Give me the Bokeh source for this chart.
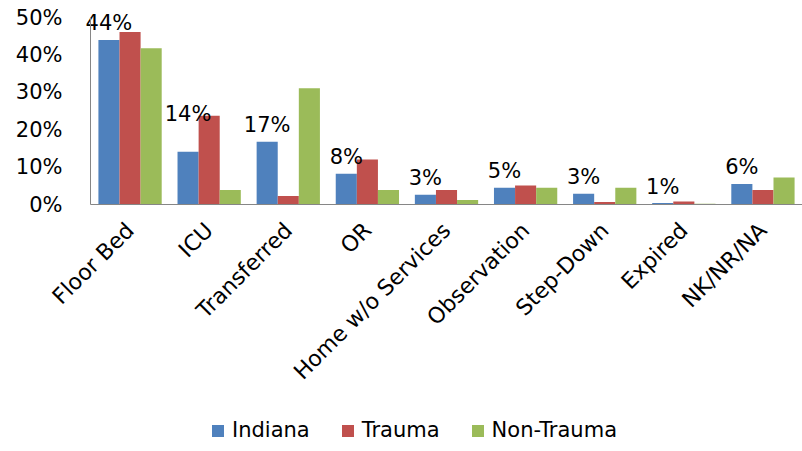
import math
from bokeh.plotting import figure
from bokeh.models import (ColumnDataSource, Range1d, FixedTicker,
                          PrintfTickFormatter, CustomJSTickFormatter, Legend, LegendItem)
from bokeh.transform import dodge
from bokeh.core.properties import value
from bokeh.embed import file_html
from bokeh.resources import INLINE

categories = ["Floor Bed", "ICU", "Transferred", "OR", "Home w/o Services",
              "Observation", "Step-Down", "Expired", "NK/NR/NA"]
indiana = [44.0, 14.1, 16.8, 8.2, 2.6, 4.5, 2.9, 0.4, 5.5]
trauma = [46.1, 23.7, 2.3, 12.0, 3.9, 5.1, 0.7, 0.8, 3.9]
non_trauma = [41.8, 3.9, 31.1, 3.9, 1.2, 4.5, 4.5, 0.2, 7.2]
indiana_labels = ["44%", "14%", "17%", "8%", "3%", "5%", "3%", "1%", "6%"]
y_ticks = [0, 10, 20, 30, 40, 50]
series_names = ["Indiana", "Trauma", "Non-Trauma"]
colors = ["#4F81BD", "#C0504D", "#9BBB59"]

FONT = "DejaVu Sans"
W, H = 802, 451
PLOT_LEFT, PLOT_TOP, PLOT_BOTTOM = 90, 17, 204   # pixel edges of the value area

n = len(categories)
centers = [i + 0.5 for i in range(n)]
label_y = [max(a + 4.4, b + 0.6) for a, b in zip(indiana, trauma)]

src = ColumnDataSource(dict(x=centers, indiana=indiana, trauma=trauma,
                            non_trauma=non_trauma, label=indiana_labels, label_y=label_y))

# the frame covers the whole canvas; axes are pinned at 0 so labels are never clipped
Y_TOP = max(y_ticks)
pxu_y = (PLOT_BOTTOM - PLOT_TOP) / Y_TOP
pxu_x = (W - PLOT_LEFT) / n
x_range = Range1d(-PLOT_LEFT / pxu_x, n)
y_range = Range1d(-(H - PLOT_BOTTOM) / pxu_y, Y_TOP + PLOT_TOP / pxu_y)

p = figure(width=W, height=H, output_backend="svg", toolbar_location=None,
           x_range=x_range, y_range=y_range,
           min_border_left=0, min_border_right=0, min_border_top=0, min_border_bottom=0)
p.outline_line_color = None
p.xgrid.visible = False
p.ygrid.visible = False

bw = 0.8 / 3
renderers = []
for off, col, c in zip([-bw, 0, bw], ["indiana", "trauma", "non_trauma"], colors):
    r = p.vbar(x=dodge("x", off), top=col, bottom=0, width=bw, source=src,
               fill_color=c, line_color=None)
    renderers.append(r)

p.text(x=dodge("x", -bw), y="label_y", text="label", source=src,
       text_align="center", text_baseline="alphabetic",
       text_font=value(FONT), text_font_size="21px", text_color="#000000")

# y axis
ya = p.yaxis[0]
ya.fixed_location = 0
ya.ticker = FixedTicker(ticks=y_ticks)
ya.bounds = (0, Y_TOP)
ya.formatter = PrintfTickFormatter(format="%d%%")
ya.axis_line_color = "#868686"
ya.major_tick_line_color = None
ya.minor_tick_line_color = None
ya.major_tick_out = 0
ya.major_label_standoff = 28
ya.major_label_text_font = FONT
ya.major_label_text_font_size = "21px"
ya.major_label_text_color = "#000000"

# x axis, placed at value 0
xa = p.xaxis[0]
xa.fixed_location = 0
xa.bounds = (0, n)
xa.ticker = FixedTicker(ticks=centers)
xa.formatter = CustomJSTickFormatter(args=dict(cats=categories),
                                     code="return cats[Math.floor(tick)] || '';")
xa.axis_line_color = "#868686"
xa.major_tick_line_color = None
xa.minor_tick_line_color = None
xa.major_tick_out = 0
xa.major_label_standoff = 22
xa.major_label_orientation = math.pi / 4
xa.major_label_text_font = FONT
xa.major_label_text_font_size = "22px"
xa.major_label_text_color = "#000000"

legend = Legend(items=[LegendItem(label=s, renderers=[r]) for s, r in zip(series_names, renderers)],
                orientation="horizontal", location=(PLOT_LEFT + 120, 9),
                glyph_width=15, glyph_height=15, label_standoff=7, spacing=30,
                padding=0, margin=0, border_line_color=None, background_fill_alpha=0,
                label_text_font=FONT, label_text_font_size="21px", label_text_color="#000000")
p.add_layout(legend, "center")

open("out.html", "w").write(file_html(p, INLINE))
